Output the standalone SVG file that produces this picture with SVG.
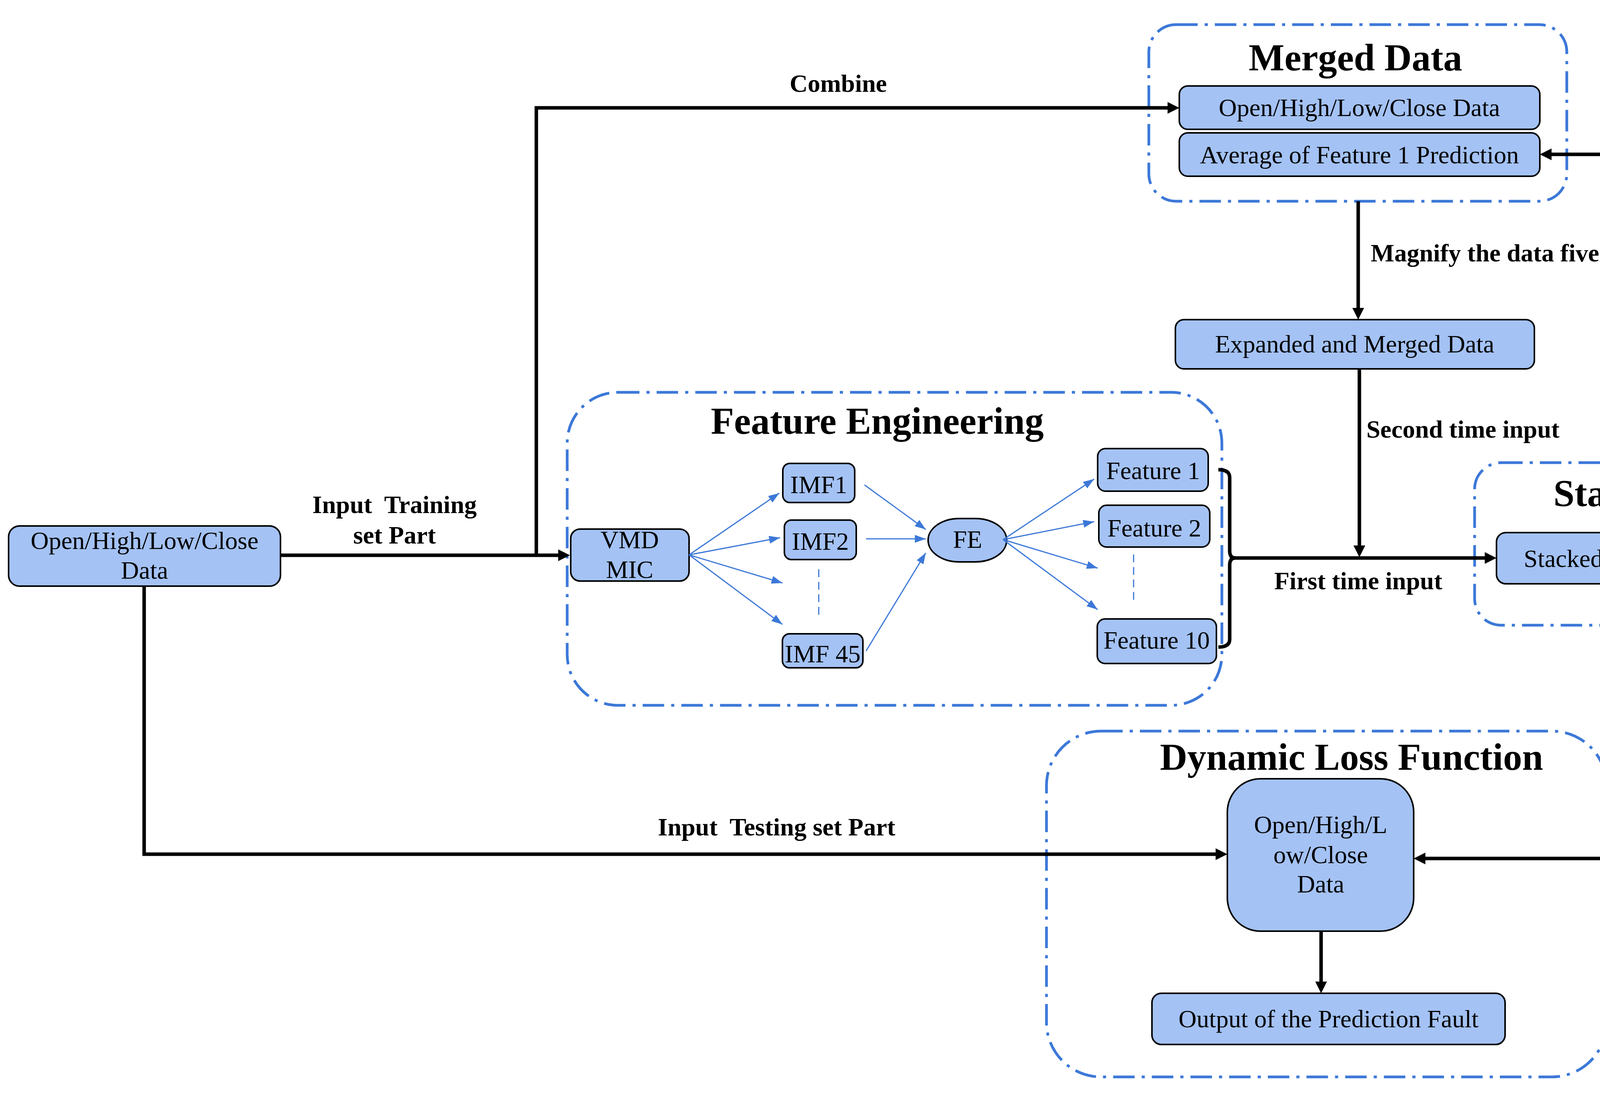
<svg xmlns="http://www.w3.org/2000/svg" width="6766" height="2833" viewBox="0 0 6766 2833">
<defs>
<style>
.bg{fill:#ffffff}
.grp{fill:none;stroke:#3C78D8;stroke-width:7;stroke-dasharray:55 18 8 18}
.node{fill:#A4C2F4;stroke:#000;stroke-width:4}
.t{font-family:"Liberation Serif","Times New Roman",serif;font-size:64px;fill:#000;text-anchor:middle}
.lb{font-family:"Liberation Serif","Times New Roman",serif;font-size:64px;font-weight:bold;fill:#000}
.title{font-family:"Liberation Serif","Times New Roman",serif;font-size:97px;font-weight:bold;fill:#000;text-anchor:middle}
.blk{fill:none;stroke:#000;stroke-width:9}
.blu{fill:none;stroke:#3C78D8;stroke-width:3}
.dsh{fill:none;stroke:#3C78D8;stroke-width:3;stroke-dasharray:20 12}
</style>
<marker id="ab" markerUnits="userSpaceOnUse" markerWidth="30" markerHeight="30" refX="14" refY="15" orient="auto">
<path d="M0,0 L30,15 L0,30 z" fill="#000"/>
</marker>
<marker id="au" markerUnits="userSpaceOnUse" markerWidth="28" markerHeight="20" refX="28" refY="10" orient="auto">
<path d="M0,0 L28,10 L0,20 z" fill="#3C78D8"/>
</marker>
</defs>
<rect class="bg" x="0" y="0" width="6766" height="2833"/>

<g id="merged-data">
<rect class="grp" x="2941" y="63" width="1070" height="452" rx="70" ry="70"/>
<text class="title" x="3470" y="180">Merged Data</text>
<rect class="node" x="3019" y="220" width="923" height="111" rx="22" ry="22"/>
<text class="t" x="3480" y="297">Open/High/Low/Close Data</text>
<rect class="node" x="3019" y="340" width="923" height="111" rx="22" ry="22"/>
<text class="t" x="3480" y="418">Average of Feature 1 Prediction</text>
</g>

<g id="expanded">
<rect class="node" x="3009" y="818" width="919" height="126" rx="22" ry="22"/>
<text class="t" x="3468" y="902">Expanded and Merged Data</text>
</g>

<g id="feature-engineering">
<rect class="grp" x="1452" y="1004" width="1676" height="801" rx="130" ry="130"/>
<text class="title" x="2246" y="1110">Feature Engineering</text>
</g>

<g id="vmd-mic">
<rect class="node" x="1461" y="1354" width="303" height="133" rx="24" ry="24"/>
<text class="t" x="1612" y="1403">VMD</text>
<text class="t" x="1612" y="1479">MIC</text>
</g>
<g id="imf1">
<rect class="node" x="2004" y="1186" width="184" height="100" rx="18" ry="18"/>
<text class="t" x="2096" y="1262">IMF1</text>
</g>
<g id="imf2">
<rect class="node" x="2008" y="1331" width="184" height="101" rx="18" ry="18"/>
<text class="t" x="2100" y="1407">IMF2</text>
</g>
<g id="imf45">
<rect class="node" x="2003" y="1622" width="206" height="87" rx="18" ry="18"/>
<text class="t" x="2106" y="1695">IMF 45</text>
</g>
<g id="fe">
<rect class="node" x="2376" y="1327" width="201" height="111" rx="80" ry="55"/>
<text class="t" x="2477" y="1402">FE</text>
</g>
<g id="feature1">
<rect class="node" x="2810" y="1148" width="283" height="109" rx="20" ry="20"/>
<text class="t" x="2952" y="1226">Feature 1</text>
</g>
<g id="feature2">
<rect class="node" x="2813" y="1293" width="284" height="107" rx="20" ry="20"/>
<text class="t" x="2955" y="1373">Feature 2</text>
</g>
<g id="feature10">
<rect class="node" x="2809" y="1584" width="305" height="114" rx="20" ry="20"/>
<text class="t" x="2961" y="1660">Feature 10</text>
</g>

<g id="main-data">
<rect class="node" x="22" y="1346" width="696" height="154" rx="28" ry="28"/>
<text class="t" x="370" y="1405">Open/High/Low/Close</text>
<text class="t" x="370" y="1481">Data</text>
</g>

<g id="stack-structure">
<rect class="grp" x="3775" y="1184" width="1676" height="416" rx="68" ry="68"/>
<text class="title" x="4597" y="1295">Stack Structure and Informer</text>
</g>
<g id="stacked-network">
<rect class="node" x="3831" y="1363" width="903" height="131" rx="24" ry="24"/>
<text class="t" x="4282" y="1451">Stacked Structure of Network</text>
</g>
<g id="informer">
<rect class="node" x="4834" y="1363" width="578" height="131" rx="24" ry="24"/>
<text class="t" x="5123" y="1451">Informer(Decoder)</text>
</g>

<g id="initial-output">
<rect class="grp" x="5785" y="924" width="776" height="887" rx="130" ry="130"/>
<text class="title" x="6173" y="1041">initial output</text>
</g>
<g id="f1pred">
<rect class="node" x="5865" y="1137" width="596" height="108" rx="22" ry="22"/>
<text class="t" x="6163" y="1212">Feature 1 Prediction</text>
</g>
<g id="f2pred">
<rect class="node" x="5865" y="1293" width="596" height="108" rx="22" ry="22"/>
<text class="t" x="6163" y="1368">Feature 2 Prediction</text>
</g>
<g id="f10pred">
<rect class="node" x="5865" y="1598" width="596" height="108" rx="22" ry="22"/>
<text class="t" x="6163" y="1673">Feature 10 Prediction</text>
</g>

<g id="dynamic-loss">
<rect class="grp" x="2679" y="1871" width="1434" height="885" rx="140" ry="140"/>
<text class="title" x="3460" y="1970">Dynamic Loss Function</text>
</g>
<g id="loss-data">
<rect class="node" x="3142" y="1993" width="477" height="390" rx="85" ry="85"/>
<text class="t" x="3381" y="2132">Open/High/L</text>
<text class="t" x="3381" y="2209">ow/Close</text>
<text class="t" x="3381" y="2284">Data</text>
</g>
<g id="prediction-fault">
<rect class="node" x="2949" y="2542" width="904" height="131" rx="24" ry="24"/>
<text class="t" x="3401" y="2629">Output of the Prediction Fault</text>
</g>

<g id="prediction-result">
<rect class="grp" x="4646" y="2550" width="1037" height="172" rx="40" ry="40"/>
<text class="title" style="font-size:108px" x="5131" y="2681">Prediction Result</text>
</g>

<g id="connectors">
<path class="blk" d="M718,1421 H1443" marker-end="url(#ab)"/>
<path class="blk" d="M1373,1421 V276 H3003" marker-end="url(#ab)"/>
<path class="blk" d="M369,1500 V2186 H3126" marker-end="url(#ab)"/>
<path class="blk" d="M3477,515 V802" marker-end="url(#ab)"/>
<path class="blk" d="M3480,944 V1410" marker-end="url(#ab)"/>
<path class="blk" d="M3148,1428 H3815" marker-end="url(#ab)"/>
<path class="blk" d="M5412,1424 H5777" marker-end="url(#ab)"/>
<path class="blk" d="M5164,1494 V2534" marker-end="url(#ab)"/>
<path class="blk" d="M5164,2197 H3635" marker-end="url(#ab)"/>
<path class="blk" d="M6173,904 V395 H3958" marker-end="url(#ab)"/>
<path class="blk" d="M3382,2383 V2526" marker-end="url(#ab)"/>
<path class="blk" d="M3119,1202 Q3148,1202 3148,1222 V1410 Q3148,1428 3162,1428 Q3148,1428 3148,1446 V1636 Q3148,1656 3119,1656"/>
<path class="blk" style="stroke-width:7" d="M5849,1171 H5836 Q5825,1171 5825,1182 V1408 Q5825,1421 5806,1421 Q5825,1421 5825,1434 V1659 Q5825,1670 5836,1670 H5849"/>
<path class="blu" d="M4734,1427 H4834" marker-end="url(#au)"/>
<path class="blu" d="M1764,1420 L1995,1262" marker-end="url(#au)"/>
<path class="blu" d="M1764,1420 L1997,1376" marker-end="url(#au)"/>
<path class="blu" d="M1764,1420 L2003,1492" marker-end="url(#au)"/>
<path class="blu" d="M1764,1420 L2003,1598" marker-end="url(#au)"/>
<path class="blu" d="M2213,1241 L2370,1355" marker-end="url(#au)"/>
<path class="blu" d="M2217,1379 L2370,1379" marker-end="url(#au)"/>
<path class="blu" d="M2217,1666 L2370,1415" marker-end="url(#au)"/>
<path class="blu" d="M2568,1381 L2801,1226" marker-end="url(#au)"/>
<path class="blu" d="M2568,1381 L2801,1335" marker-end="url(#au)"/>
<path class="blu" d="M2568,1381 L2810,1454" marker-end="url(#au)"/>
<path class="blu" d="M2568,1381 L2810,1560" marker-end="url(#au)"/>
<path class="dsh" d="M2096,1457 V1584"/>
<path class="dsh" d="M2902,1419 V1546"/>
<path class="dsh" d="M6177,1424 V1553"/>
</g>

<g id="labels">
<text class="lb" x="2146" y="235" text-anchor="middle">Combine</text>
<text class="lb" x="4866" y="349" text-anchor="middle">Average</text>
<text class="lb" x="3509" y="669">Magnify the data five times in equal proportions</text>
<text class="lb" x="3498" y="1120">Second time input</text>
<text class="lb" x="3262" y="1508">First time input</text>
<text class="lb" x="1010" y="1313" text-anchor="middle" xml:space="preserve">Input  Training</text>
<text class="lb" x="1010" y="1391" text-anchor="middle">set Part</text>
<text class="lb" x="1684" y="2138" xml:space="preserve">Input  Testing set Part</text>
<text class="lb" x="5455" y="1404">initial output</text>
<text class="lb" x="5221" y="1892">Final Output</text>
</g>
</svg>
